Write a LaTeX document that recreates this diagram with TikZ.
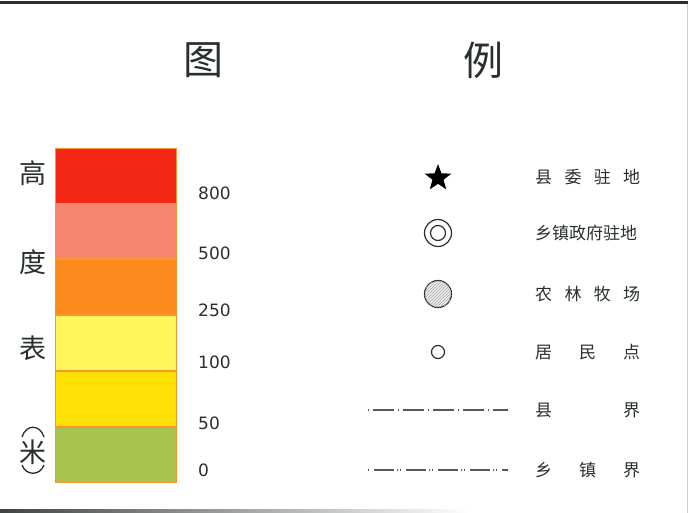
\documentclass[tikz,border=0pt]{standalone}
\usepackage{fontspec}
\setmainfont{DejaVu Sans}
\newfontfamily\cjk{Noto Sans CJK SC}
\usetikzlibrary{positioning,shapes.geometric,patterns}
\definecolor{h800}{RGB}{244,40,20}
\definecolor{h500}{RGB}{246,132,110}
\definecolor{h250}{RGB}{250,138,28}
\definecolor{h100}{RGB}{255,246,92}
\definecolor{h50}{RGB}{254,224,4}
\definecolor{h0}{RGB}{168,196,76}
\definecolor{bandedge}{RGB}{250,150,50}
\definecolor{ink}{RGB}{40,48,44}

\begin{document}
\begin{tikzpicture}[x=1pt, y=-1pt, node distance=0mm and 1cm,
  band/.style = {draw=bandedge, line width=0.8pt, minimum width=121pt, minimum height=55pt, inner sep=0pt},
  heading/.style = {font=\cjk\fontsize{40}{40}\selectfont, text=ink, inner sep=0pt},
  sidelabel/.style = {font=\cjk\fontsize{27}{27}\selectfont, text=ink, inner sep=0pt},
  num/.style = {anchor=west, inner sep=0pt, font=\fontsize{17}{17}\selectfont, text=ink},
  entry/.style = {anchor=west, inner sep=0pt, font=\cjk\fontsize{17}{17}\selectfont, text=ink},
  ring/.style = {draw=ink, line width=1.2pt, circle, inner sep=0pt},
  xianjie/.style = {draw=ink!80, line width=1.5pt, dash pattern=on 1pt off 4pt on 21pt off 4pt},
  xiangjie/.style = {draw=ink!80, line width=1.5pt, dash pattern=on 1pt off 5pt on 20pt off 3pt on 1pt off 2pt}]
\useasboundingbox (0,0) rectangle (688,513);
\fill[white] (0,0) rectangle (688,513);
% frame
\draw[line width=3pt, ink] (0,2.5) -- (688,2.5);
\draw[line width=0.6pt, gray!40] (687,4) -- (687,513);
\shade[left color=ink!90, right color=white] (0,509.5) rectangle (470,512.5);

% title
\node[heading] (tu) at (203,60) {图};
\node[heading] (li) at (483,60) {例};

% height bands
\node[band, fill=h800] (b800) at (115.5,175.5) {};
\node[band, fill=h500] (b500) [below=of b800] {};
\node[band, fill=h250] (b250) [below=of b500] {};
\node[band, fill=h100] (b100) [below=of b250] {};
\node[band, fill=h50] (b50) [below=of b100] {};
\node[band, fill=h0] (b0) [below=of b50] {};

\node[sidelabel] (gao) at (33,173) {高};
\node[sidelabel] (du) at (33,262) {度};
\node[sidelabel] (biao) at (33,348) {表};
\node[sidelabel] (mi) at (33,452) {米};
% vertical brackets round mi
\draw[ink, line width=1.3pt] (22,437) .. controls (26,424) and (40,424) .. (44,437);
\draw[ink, line width=1.3pt] (22,465) .. controls (26,476) and (40,476) .. (44,465);

\node[num] (n800) at (198,193) {800};
\node[num] (n500) at (198,253) {500};
\node[num] (n250) at (198,310) {250};
\node[num] (n100) at (198,362) {100};
\node[num] (n50) at (198,423) {50};
\node[num] (n0) at (198,470) {0};

% symbols
\node[star, star points=5, star point ratio=2.4, fill=black, minimum size=28pt, inner sep=0pt] (xianwei) at (438,178) {};
\node[ring, minimum size=27pt] (xiangzhen) at (438,233) {};
\node[ring, minimum size=15pt] (xiangzhenin) at (438,233) {};
\node[ring, minimum size=27pt, fill=gray!12, postaction={pattern=north east lines, pattern color=gray!70}] (nonglin) at (438,294) {};
\node[ring, minimum size=13pt] (jumin) at (438,352) {};
\coordinate (xj-a) at (368,410);
\coordinate (xj-b) at (508,410);
\draw[xianjie] (xj-a) -- (xj-b);
\coordinate (zj-a) at (368,470);
\coordinate (zj-b) at (508,470);
\draw[xiangjie] (zj-a) -- (zj-b);

\node[entry] (t-xianwei) at (535,177) {\makebox[105pt][s]{县\hfil 委\hfil 驻\hfil 地}};
\node[entry] (t-xiangzhen) at (535,233) {乡镇政府驻地};
\node[entry] (t-nonglin) at (535,294) {\makebox[105pt][s]{农\hfil 林\hfil 牧\hfil 场}};
\node[entry] (t-jumin) at (535,352) {\makebox[105pt][s]{居\hfil 民\hfil 点}};
\node[entry] (t-xianjie) at (535,410) {\makebox[105pt][s]{县\hfil 界}};
\node[entry] (t-xiangjie) at (535,470) {\makebox[105pt][s]{乡\hfil 镇\hfil 界}};
\end{tikzpicture}
\end{document}
